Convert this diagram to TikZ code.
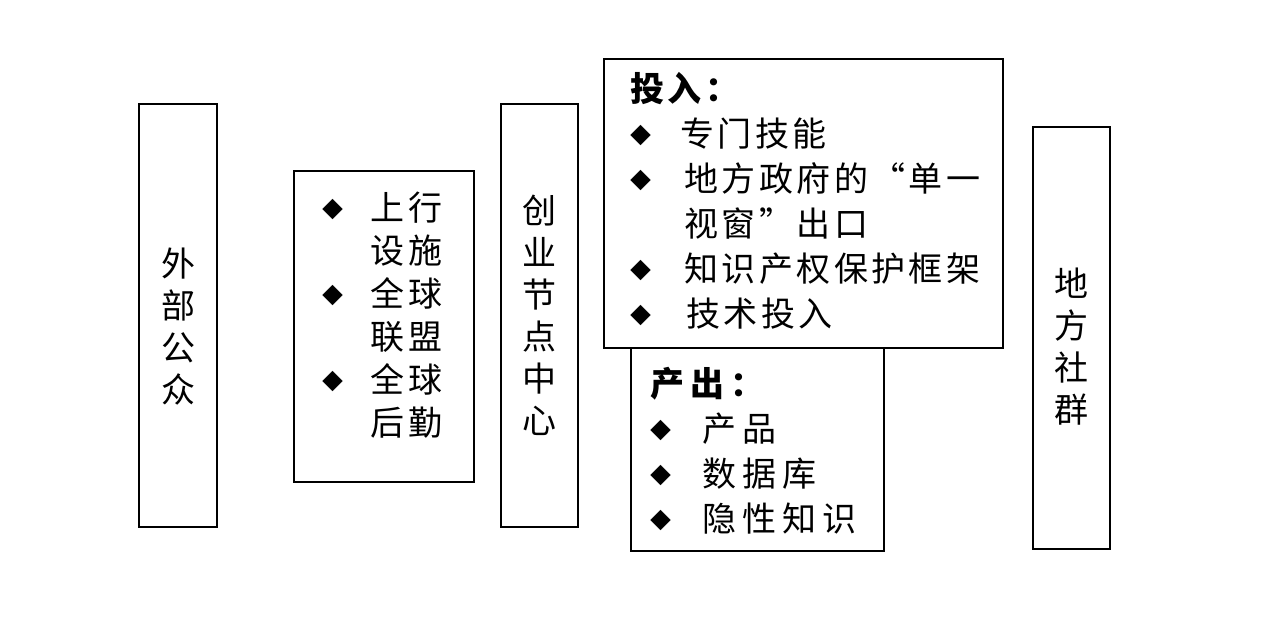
\documentclass[tikz,border=0pt]{standalone}
\usepackage{fontspec}
\setmainfont{Noto Sans CJK SC}
\usetikzlibrary{positioning}

\newcommand{\bul}{\makebox[24pt][l]{\fontsize{10.5}{10.5}\selectfont\raisebox{1.5pt}{◆}}}

\begin{document}
\begin{tikzpicture}[
  x=0.5pt, y=-0.5pt,
  box/.style={draw, line width=1.4pt, fill=white, inner sep=0pt},
  txt/.style={inner sep=0pt, align=left},
  col/.style={inner sep=0pt, align=center, font=\fontsize{17}{21}\selectfont}
]
\useasboundingbox (0,0) rectangle (1281,620);

% ---- boxes ----
\node[box, minimum width=39pt, minimum height=211.5pt] (pub) at (178,315.5) {};
\node[box, minimum width=90pt, minimum height=155.5pt] (infra) at (384,326.5) {};
\node[box, minimum width=38.5pt, minimum height=211.5pt] (hub) at (539.5,315.5) {};
\node[box, minimum width=126.5pt, minimum height=110.5pt] (outp) at (757.5,440.5) {};
\node[box, minimum width=199.5pt, minimum height=144.5pt] (inp) at (803.5,203.5) {};
\node[box, minimum width=38.5pt, minimum height=211pt] (comm) at (1071.5,338) {};

% ---- texts ----
\node[col] (pubtxt) at (178,327) {外\\部\\公\\众};
\node[col] (hubtxt) at (539.5,315) {创\\业\\节\\点\\中\\心};
\node[col] (commtxt) at (1071.5,347) {地\\方\\社\\群};

\node[txt, anchor=north west, font=\fontsize{17}{21.5}\selectfont\addfontfeature{LetterSpace=11}] (infratxt) at (322,192)
  {\bul 上行\\ \hspace*{24pt}设施\\ \bul 全球\\ \hspace*{24pt}联盟\\ \bul 全球\\ \hspace*{24pt}后勤};

\node[txt, anchor=north west, font=\fontsize{17}{22.5}\selectfont\addfontfeature{LetterSpace=10}] (inptxt) at (630,72)
  {\textbf{投入：}\\
   \bul \hspace*{1pt}专门技能\\
   \bul \hspace*{3pt}地方政府的“单一\\
   \hspace*{27pt}视窗”出口\\
   \bul \hspace*{3pt}知识产权保护框架\\
   \bul \hspace*{4pt}技术投入};

\node[txt, anchor=north west, font=\fontsize{17}{22.5}\selectfont\addfontfeature{LetterSpace=18}] (outptxt) at (650,367)
  {\textbf{产出：}\\
   \bul \hspace*{2pt}产品\\
   \bul \hspace*{2pt}数据库\\
   \bul \hspace*{2pt}隐性知识};

\end{tikzpicture}
\end{document}
